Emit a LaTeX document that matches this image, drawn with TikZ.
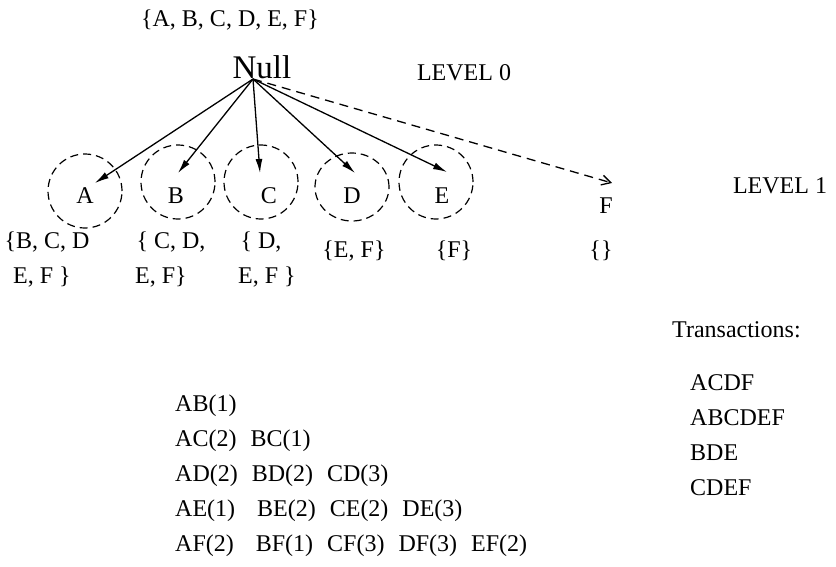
\documentclass[tikz,border=0pt]{standalone}
\usepackage{fontspec}
\setmainfont{Liberation Serif}
\usetikzlibrary{arrows.meta,shapes.geometric}
\begin{document}
\begin{tikzpicture}[x=1pt,y=-1pt,
  txt/.style={font=\fontsize{24}{28}\selectfont, inner sep=0pt, anchor=base},
  ltxt/.style={txt, anchor=base west},
  ring/.style={draw, ellipse, dash pattern=on 8pt off 5pt, line width=1.2pt,
    minimum width=74pt, minimum height=74pt, inner sep=0pt},
  arr/.style={line width=1.3pt, -{Latex[length=14pt,width=7pt]}},
  darr/.style={line width=1.3pt, dash pattern=on 9pt off 6pt,
    -{Straight Barb[length=9pt,width=10pt]}}]
\useasboundingbox (0,0) rectangle (836,566);

% top
\node[txt] (all) at (230,26) {\{A, B, C, D, E, F\}};
\node[txt, font=\fontsize{33}{38}\selectfont] (null) at (262,78) {Null};
\coordinate (np) at (253,79);
\node[txt] (lv0) at (464,80) {LEVEL 0};
\node[txt] (lv1) at (780,193) {LEVEL 1};

% circles
\node[ring] (cA) at (85,191) {};
\node[ring] (cB) at (178,182) {};
\node[ring] (cC) at (261,182) {};
\node[ring, minimum height=68pt] (cD) at (352,187) {};
\node[ring] (cE) at (436,182) {};

% letters
\node[txt] (lA) at (85,203) {A};
\node[txt] (lB) at (176,203) {B};
\node[txt] (lC) at (269,203) {C};
\node[txt] (lD) at (352,203) {D};
\node[txt] (lE) at (442,203) {E};
\node[txt] (lF) at (606,213) {F};

% arrow tips
\coordinate (tA) at (95,183);
\coordinate (tB) at (178,173);
\coordinate (tC) at (260,173);
\coordinate (tD) at (355,173);
\coordinate (tE) at (447,172);
\coordinate (tF) at (612,183);
\draw[arr] (np) -- (tA);
\draw[arr] (np) -- (tB);
\draw[arr] (np) -- (tC);
\draw[arr] (np) -- (tD);
\draw[arr] (np) -- (tE);
\draw[darr] (np) -- (tF);

% sets
\node[txt] (sA1) at (47,248) {\{B, C, D};
\node[txt] (sA2) at (42,283) {E, F \}};
\node[txt] (sB1) at (171,248) {\{ C, D,};
\node[txt] (sB2) at (161,283) {E, F\}};
\node[txt] (sC1) at (261,248) {\{ D,};
\node[txt] (sC2) at (267,283) {E, F \}};
\node[txt] (sD) at (354,257) {\{E, F\}};
\node[txt] (sE) at (454,257) {\{F\}};
\node[txt] (sF) at (601,257) {\{\}};

% transactions
\node[ltxt] (tr) at (672,337) {Transactions:};
\node[ltxt] (t1) at (690,390) {ACDF};
\node[ltxt] (t2) at (690,425) {ABCDEF};
\node[ltxt] (t3) at (690,460) {BDE};
\node[ltxt] (t4) at (690,495) {CDEF};

% pairs
\node[ltxt] (r1) at (175,411) {AB(1)};
\node[ltxt] (r2) at (175,446) {AC(2)\hspace{14pt}BC(1)};
\node[ltxt] (r3) at (175,481) {AD(2)\hspace{14pt}BD(2)\hspace{14pt}CD(3)};
\node[ltxt] (r4) at (175,516) {AE(1)\hspace{22pt}BE(2)\hspace{14pt}CE(2)\hspace{14pt}DE(3)};
\node[ltxt] (r5) at (175,551) {AF(2)\hspace{22pt}BF(1)\hspace{14pt}CF(3)\hspace{14pt}DF(3)\hspace{14pt}EF(2)};
\end{tikzpicture}
\end{document}
